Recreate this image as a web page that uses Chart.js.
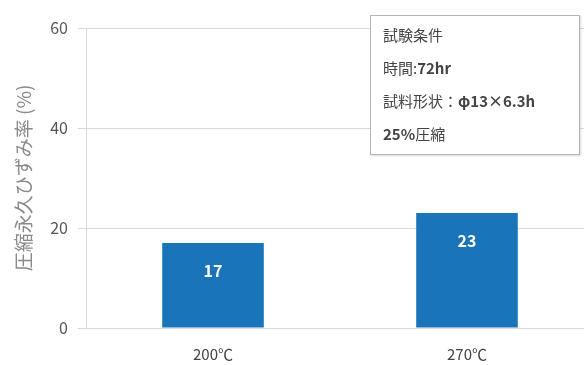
<!DOCTYPE html>
<html>
<head>
<meta charset="utf-8">
<script src="https://cdn.jsdelivr.net/npm/chart.js@4"></script>
<style>
  html, body { margin: 0; padding: 0; background: #fff; }
  #wrap { position: relative; width: 584px; height: 365px; overflow: hidden; }
  #box {
    position: absolute; left: 370px; top: 15px; width: 210px; height: 140px;
    border: 1px solid #b5b5b5; background: #fff; box-shadow: 1px 1px 2px rgba(0,0,0,0.15);
    font-family: 'Noto Sans CJK JP', sans-serif; font-size: 15px; color: #444;
    box-sizing: border-box; padding: 2px 0 0 12px; line-height: 33px;
  }
  #box b { font-weight: bold; }
</style>
</head>
<body>
<div id="wrap">
  <canvas id="myChart" width="600" height="365" style="width:600px;height:365px"></canvas>
  <div id="box">
    試験条件<br>
    時間:<b>72hr</b><br>
    試料形状：<b>φ13×6.3h</b><br>
    <b>25%</b>圧縮
  </div>
</div>
<script>
'use strict'

/* global Chart */

const categories = ['200℃', '270℃']
const values = [17, 23]
const yTicks = [0, 20, 40, 60]
const yTitle = '圧縮永久ひずみ率 (%)'

const font = "'Noto Sans CJK JP', sans-serif"

// value text inside the top of each bar
const barLabels = {
  id: 'barLabels',
  afterDatasetsDraw (chart) {
    const ctx = chart.ctx
    const meta = chart.getDatasetMeta(0)
    ctx.save()
    ctx.fillStyle = '#fff'
    ctx.font = 'bold 16px ' + font
    ctx.textAlign = 'center'
    ctx.textBaseline = 'middle'
    meta.data.forEach((bar, i) => {
      ctx.fillText(String(values[i]), bar.x, bar.y + 28)
    })
    ctx.restore()
  }
}

const myChart = new Chart(document.querySelector('#myChart'), {
  type: 'bar',
  data: {
    labels: categories,
    datasets: [{
      data: values,
      backgroundColor: '#1a74ba',
      categoryPercentage: 0.8,
      barPercentage: 0.5
    }]
  },
  options: {
    responsive: false,
    animation: false,
    layout: { padding: { top: 28, left: 12, right: 6, bottom: 0 } },
    plugins: {
      legend: { display: false },
      tooltip: { enabled: false }
    },
    scales: {
      x: {
        grid: { display: false },
        border: { color: '#d9d9d9' },
        ticks: { color: '#444', font: { family: font, size: 15 }, padding: 9 },
        afterFit (scale) { scale.height = 37 }
      },
      y: {
        min: 0,
        max: 60,
        afterBuildTicks (scale) { scale.ticks = yTicks.map(v => ({ value: v })) },
        grid: { color: '#d9d9d9', tickLength: 8 },
        border: { color: '#d9d9d9' },
        ticks: { color: '#555', font: { family: font, size: 16 }, padding: 10 },
        title: {
          display: true,
          text: yTitle,
          color: '#8a8a8a',
          font: { family: font, size: 19 },
          padding: { top: 0, bottom: 4 }
        },
        afterFit (scale) { scale.width = 74 }
      }
    }
  },
  plugins: [barLabels]
})
</script>
</body>
</html>
